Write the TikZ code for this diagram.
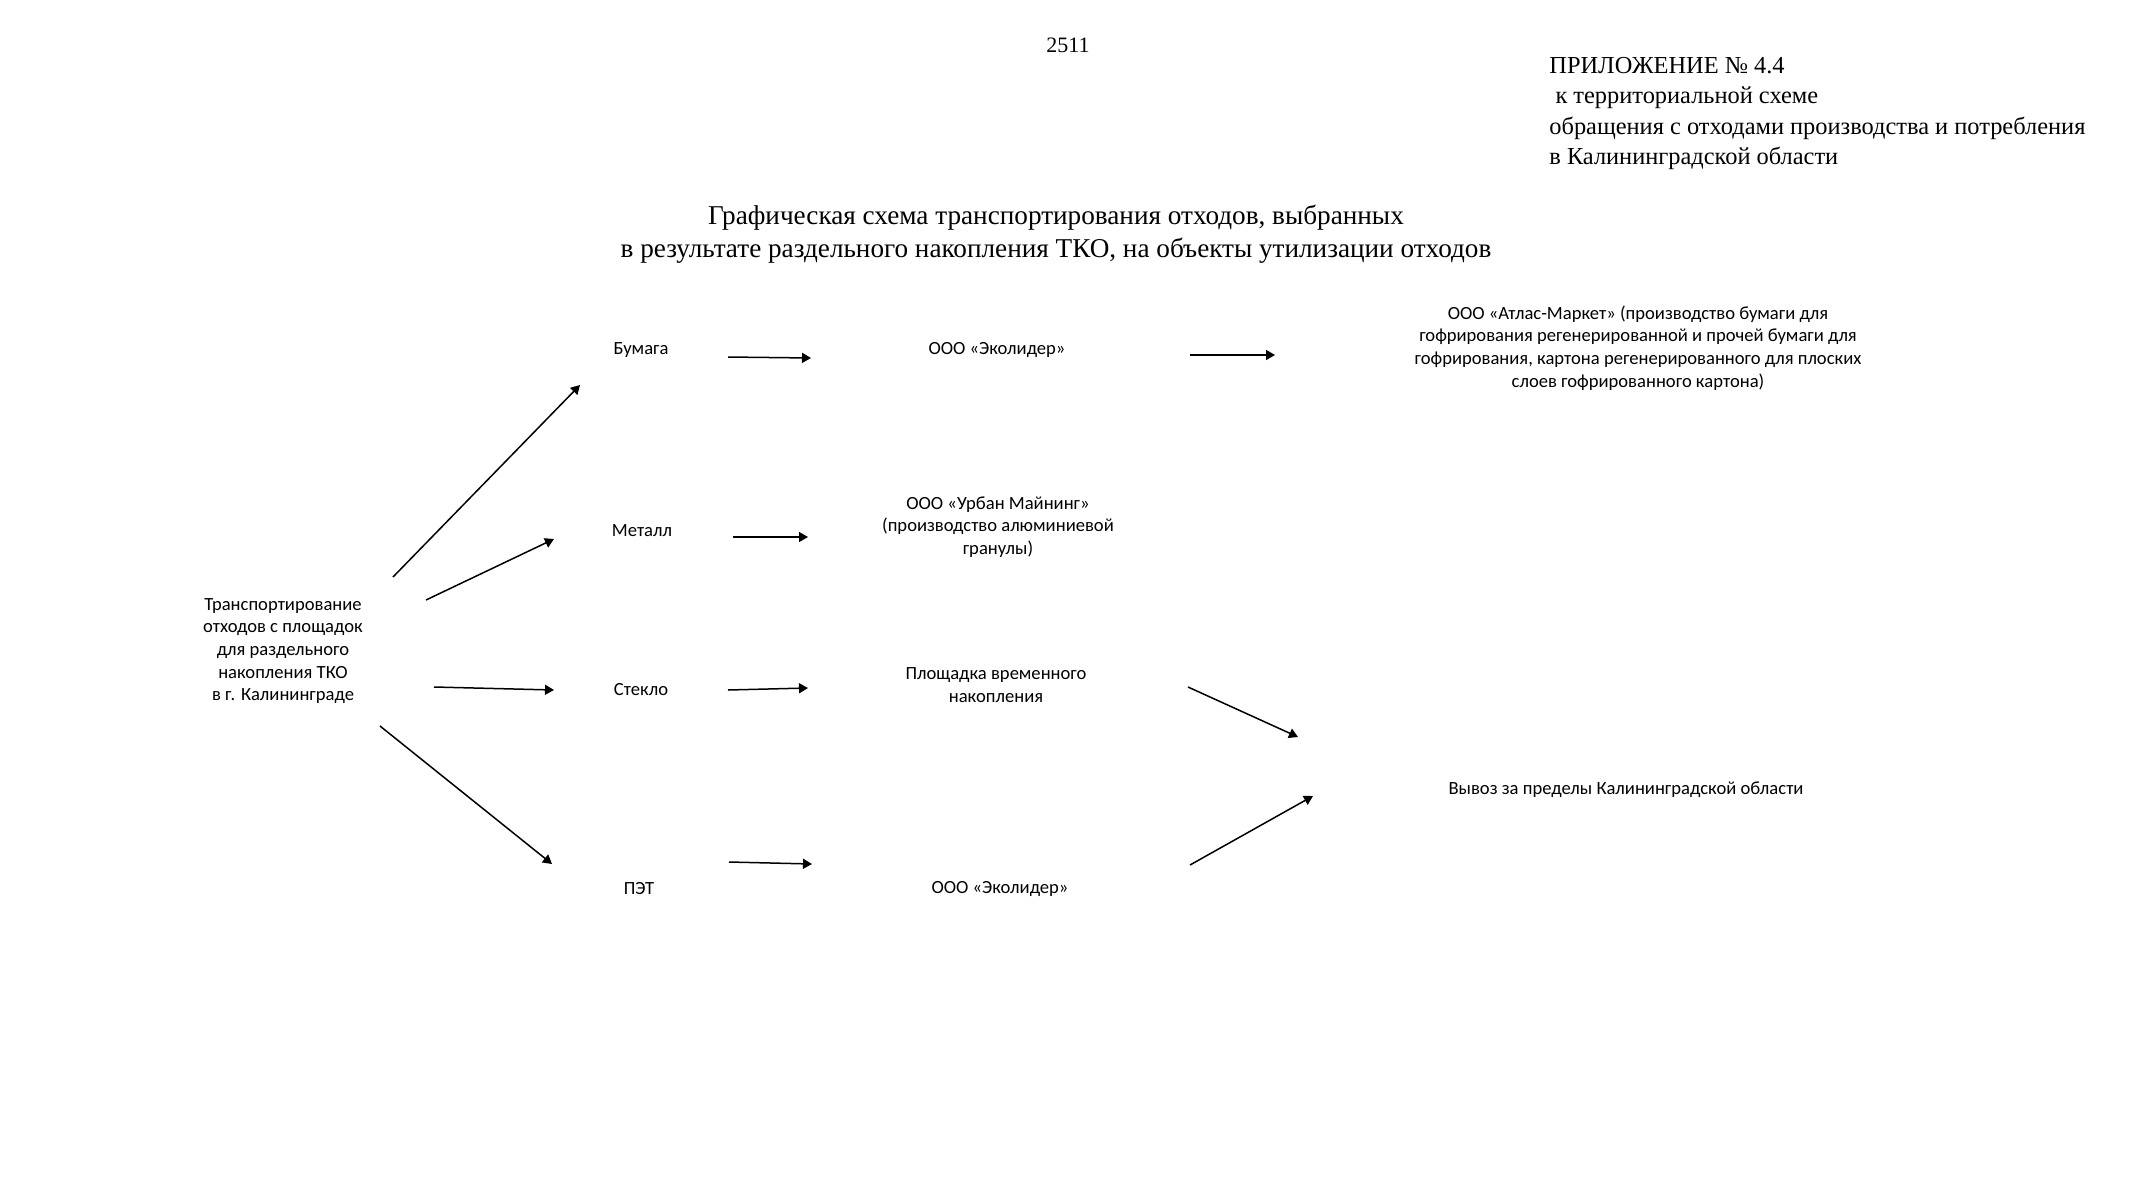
\documentclass[tikz,border=0pt]{standalone}
\usepackage{fontspec}
\setmainfont{Liberation Serif}
\newfontfamily\calibri{Carlito}
\usetikzlibrary{arrows.meta}

\begin{document}
\begin{tikzpicture}[x=0.5pt, y=-0.5pt,
    lbl/.style={font=\calibri\fontsize{9.3}{11.3}\selectfont, align=center, inner sep=0pt},
    arr/.style={-{Triangle[length=4.5pt,width=5pt]}, line width=0.75pt}
]
  \useasboundingbox (0,0) rectangle (2133,1200);
  % page head
  \node[font=\fontsize{11}{13}\selectfont] (page) at (1068,45) {2511};
  \node[font=\fontsize{12.2}{15.2}\selectfont, align=left, anchor=north west, inner sep=0pt] (appx) at (1549,57)
    {ПРИЛОЖЕНИЕ № 4.4\\
     \hspace*{.25em}к территориальной схеме\\
     обращения с отходами производства и потребления\\
     в Калининградской области};
  \node[font=\fontsize{13.6}{16.3}\selectfont, align=center] (title) at (1056,234)
    {Графическая схема транспортирования отходов, выбранных\\
     в результате раздельного накопления ТКО, на объекты утилизации отходов};
  % source
  \node[lbl] (tr) at (283,651) {Транспортирование\\отходов с площадок\\для раздельного\\накопления ТКО\\в г. Калининграде};
  % fractions
  \node[lbl] (bum)  at (641,350) {Бумага};
  \node[lbl] (met)  at (642,531) {Металл};
  \node[lbl] (stek) at (641,690) {Стекло};
  \node[lbl] (pet)  at (639,889) {ПЭТ};
  % receivers
  \node[lbl] (eko1) at (997,350)  {ООО «Эколидер»};
  \node[lbl] (urb)  at (998,527)  {ООО «Урбан Майнинг»\\(производство алюминиевой\\гранулы)};
  \node[lbl] (plo)  at (996,685)  {Площадка временного\\накопления};
  \node[lbl] (eko2) at (1000,889) {ООО «Эколидер»};
  \node[lbl] (atl)  at (1638,348) {ООО «Атлас-Маркет» (производство бумаги для\\гофрирования регенерированной и прочей бумаги для\\гофрирования, картона регенерированного для плоских\\слоев гофрированного картона)};
  \node[lbl] (vyv)  at (1626,790) {Вывоз за пределы Калининградской области};
  % arrows
  \draw[arr] ([shift={(110,-74)}]tr.center) -- ([shift={(-61,35)}]bum.center);
  \draw[arr] ([shift={(143,-51)}]tr.center) -- ([shift={(-88,8)}]met.center);
  \draw[arr] ([shift={(151,36)}]tr.center)  -- ([shift={(-87,0)}]stek.center);
  \draw[arr] ([shift={(97,75)}]tr.center)   -- ([shift={(-87,-25)}]pet.center);
  \draw[arr] ([shift={(87,7)}]bum.center)   -- ([shift={(-186,8)}]eko1.center);
  \draw[arr] ([shift={(193,5)}]eko1.center) -- ([shift={(-363,7)}]atl.center);
  \draw[arr] ([shift={(91,6)}]met.center)   -- ([shift={(-190,10)}]urb.center);
  \draw[arr] ([shift={(87,0)}]stek.center)  -- ([shift={(-188,3)}]plo.center);
  \draw[arr] ([shift={(90,-27)}]pet.center) -- ([shift={(-188,-25)}]eko2.center);
  \draw[arr] ([shift={(192,2)}]plo.center)  -- ([shift={(-328,-53)}]vyv.center);
  \draw[arr] ([shift={(190,-24)}]eko2.center) -- ([shift={(-313,6)}]vyv.center);
\end{tikzpicture}
\end{document}
